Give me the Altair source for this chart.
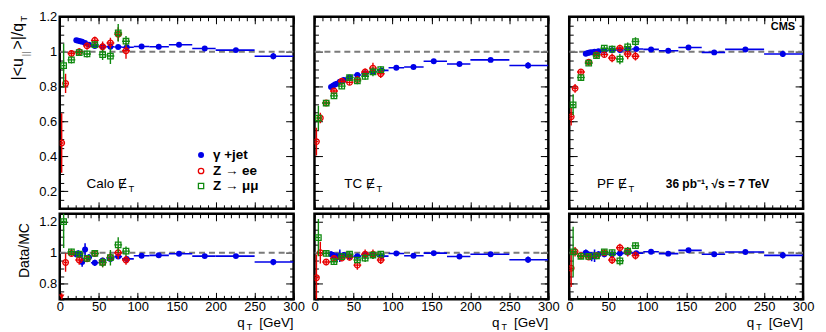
import altair as alt
import pandas as pd

FONT = "Liberation Sans"
BLUE = "#0000e8"
RED = "#e80000"
GREEN = "#108a10"

ALGOS = ["Calo", "TC", "PF"]
LEGEND_LABELS = ["\u03b3 +jet", "Z \u2192 ee", "Z \u2192 \u03bc\u03bc"]

# ---- gamma + jet (blue) ----
blue_q = [21.25, 23.75, 26.25, 28.75, 32.5, 37.5, 45, 55, 65, 75, 86, 105, 127, 153, 186, 226, 274]
blue_lo = [20, 22.5, 25, 27.5, 30, 35, 40, 50, 60, 70, 80, 95, 115, 140, 170, 200, 250]
blue_hi = [22.5, 25, 27.5, 30, 35, 40, 50, 60, 70, 80, 95, 115, 140, 170, 200, 250, 300]
blue_calo = [1.066, 1.063, 1.060, 1.057, 1.050, 1.040, 1.032, 1.030, 1.028, 1.027, 1.025, 1.030, 1.028, 1.040, 1.018, 1.009, 0.974]
blue_tc = [0.798, 0.805, 0.812, 0.817, 0.828, 0.838, 0.852, 0.866, 0.876, 0.885, 0.893, 0.908, 0.912, 0.945, 0.929, 0.953, 0.921]
blue_pf = [0.988, 0.992, 0.995, 0.997, 1.000, 1.003, 1.005, 1.009, 1.010, 1.012, 1.015, 1.013, 1.005, 1.024, 0.996, 1.013, 0.987]
blue_err = [0.004, 0.004, 0.004, 0.004, 0.004, 0.004, 0.004, 0.004, 0.005, 0.005, 0.005, 0.005, 0.006, 0.006, 0.007, 0.008, 0.018]
blue_calo_r = [0.990, 0.995, 0.985, 0.940, 1.020, 0.970, 0.935, 0.950, 0.960, 0.975, 0.960, 0.980, 0.983, 0.993, 0.978, 0.978, 0.940]
blue_tc_r = [0.990, 0.985, 0.975, 0.970, 0.980, 0.985, 0.975, 0.978, 0.985, 0.985, 0.978, 0.995, 0.980, 0.997, 0.976, 0.990, 0.955]
blue_pf_r = [1.000, 0.990, 0.985, 0.975, 0.980, 0.990, 0.990, 0.990, 0.995, 1.000, 0.997, 1.006, 0.994, 1.015, 0.990, 1.004, 0.983]
blue_err_r = [0.02, 0.02, 0.02, 0.03, 0.04, 0.02, 0.02, 0.015, 0.015, 0.015, 0.012, 0.01, 0.01, 0.01, 0.01, 0.012, 0.02]

# ---- Z -> ee (red) ----
ee_q = [2.5, 7.5, 15, 25, 35, 45, 55, 65, 75, 85]
ee_halfw = [2.5, 2.5, 5, 5, 5, 5, 5, 5, 5, 5]
ee_calo = [0.477, 0.818, 0.990, 1.000, 1.033, 1.065, 1.028, 1.050, 1.100, 1.005]
ee_calo_err = [0.17, 0.055, 0.02, 0.02, 0.02, 0.02, 0.03, 0.03, 0.04, 0.045]
ee_tc = [0.485, 0.620, 0.706, 0.775, 0.831, 0.824, 0.840, 0.884, 0.906, 0.874]
ee_tc_err = [0.08, 0.03, 0.015, 0.015, 0.015, 0.015, 0.02, 0.02, 0.03, 0.025]
ee_pf = [0.627, 0.790, 0.884, 0.940, 0.983, 0.983, 0.964, 1.020, 0.987, 0.974]
ee_pf_err = [0.05, 0.025, 0.015, 0.015, 0.015, 0.015, 0.025, 0.02, 0.03, 0.025]
ee_calo_r = [0.55, 0.937, 0.995, 0.953, 0.960, 0.995, 0.937, 0.970, 1.000, 0.953]
ee_calo_r_err = [0.19, 0.06, 0.02, 0.03, 0.02, 0.02, 0.03, 0.03, 0.04, 0.03]
ee_tc_r = [0.839, 1.000, 0.940, 0.963, 0.965, 0.970, 0.920, 0.990, 0.990, 0.953]
ee_tc_r_err = [0.15, 0.07, 0.02, 0.02, 0.02, 0.02, 0.03, 0.03, 0.03, 0.025]
ee_pf_r = [0.900, 1.006, 0.980, 0.972, 0.980, 1.000, 0.953, 1.032, 1.006, 0.982]
ee_pf_r_err = [0.12, 0.03, 0.015, 0.015, 0.015, 0.015, 0.025, 0.025, 0.03, 0.025]
ee_calo_r_arrow_q = [2.5]
ee_calo_r_arrow_v = [0.716]

# ---- Z -> mumu (green) ----
mm_q = [5, 15, 25, 35, 45, 55, 65, 75, 85]
mm_halfw = [2.5, 5, 5, 5, 5, 5, 5, 5, 5]
mm_calo = [0.920, 0.953, 0.995, 0.987, 1.040, 0.983, 0.975, 1.108, 1.060]
mm_calo_err = [0.125, 0.02, 0.02, 0.02, 0.02, 0.03, 0.045, 0.05, 0.03]
mm_tc = [0.620, 0.706, 0.747, 0.803, 0.852, 0.833, 0.859, 0.884, 0.897]
mm_tc_err = [0.07, 0.015, 0.015, 0.015, 0.015, 0.02, 0.02, 0.025, 0.02]
mm_pf = [0.696, 0.852, 0.934, 0.977, 1.020, 1.015, 0.958, 1.028, 1.058]
mm_pf_err = [0.06, 0.015, 0.015, 0.015, 0.015, 0.02, 0.03, 0.025, 0.025]
mm_calo_r = [1.200, 1.006, 0.990, 0.963, 0.995, 0.937, 0.968, 1.050, 1.010]
mm_calo_r_err = [0.17, 0.02, 0.02, 0.02, 0.02, 0.03, 0.05, 0.05, 0.03]
mm_tc_r = [1.097, 0.995, 0.942, 0.975, 0.990, 0.953, 0.965, 0.985, 0.990]
mm_tc_r_err = [0.12, 0.02, 0.02, 0.02, 0.02, 0.02, 0.025, 0.025, 0.02]
mm_pf_r = [1.006, 0.977, 0.976, 0.980, 1.006, 1.000, 0.948, 1.010, 1.045]
mm_pf_r_err = [0.16, 0.015, 0.015, 0.015, 0.015, 0.02, 0.03, 0.025, 0.02]

# ---- ticks ----
x_major = [0, 50, 100, 150, 200, 250, 300]
x_minor = [0, 10, 20, 30, 40, 50, 60, 70, 80, 90, 100, 110, 120, 130, 140, 150,
           160, 170, 180, 190, 200, 210, 220, 230, 240, 250, 260, 270, 280, 290, 300]
y_main_major = [0.2, 0.4, 0.6, 0.8, 1.0, 1.2]
y_main_minor = [0.1, 0.15, 0.2, 0.25, 0.3, 0.35, 0.4, 0.45, 0.5, 0.55, 0.6, 0.65,
                0.7, 0.75, 0.8, 0.85, 0.9, 0.95, 1.0, 1.05, 1.1, 1.15, 1.2]
y_ratio_major = [0.8, 1.0, 1.2]
y_ratio_minor = [0.7, 0.75, 0.8, 0.85, 0.9, 0.95, 1.0, 1.05, 1.1, 1.15, 1.2, 1.25]

W = 235
H_MAIN = 193
H_RATIO = 86

AW = {"C": 0.722, "a": 0.556, "l": 0.222, "o": 0.556, "T": 0.611, "P": 0.667, "F": 0.611, " ": 0.278}

one = pd.DataFrame({"k": [0]})


def txt(text, x, y, size=13, weight="normal", align="left", baseline="middle",
        angle=0, dx=0, dy=0, color="black"):
    return alt.Chart(one).mark_text(
        text=text, align=align, baseline=baseline, angle=angle, dx=dx, dy=dy,
        fontSize=size, fontWeight=weight, font=FONT, color=color
    ).encode(x=alt.value(x), y=alt.value(y))


def axis(orient, values, size, labels):
    return alt.Axis(orient=orient, values=values, tickSize=size, offset=-size,
                    labels=labels, domain=False, grid=False, title=None,
                    tickColor="black", tickWidth=1, labelFont=FONT, labelFontSize=13,
                    labelColor="black", format="~r", labelFlush=False,
                    labelOverlap=False, labelPadding=3 if orient == "left" else 1)


def panel(col, ratio):
    algo = ALGOS[col]
    if ratio:
        ymin, ymax, h = 0.7, 1.25, H_RATIO
        ymaj, ymin_t = y_ratio_major, y_ratio_minor
        bvals = [blue_calo_r, blue_tc_r, blue_pf_r][col]
        berr = blue_err_r
        evals = [ee_calo_r, ee_tc_r, ee_pf_r][col]
        eerr = [ee_calo_r_err, ee_tc_r_err, ee_pf_r_err][col]
        mvals = [mm_calo_r, mm_tc_r, mm_pf_r][col]
        merr = [mm_calo_r_err, mm_tc_r_err, mm_pf_r_err][col]
    else:
        ymin, ymax, h = 0.1, 1.2, H_MAIN
        ymaj, ymin_t = y_main_major, y_main_minor
        bvals = [blue_calo, blue_tc, blue_pf][col]
        berr = blue_err
        evals = [ee_calo, ee_tc, ee_pf][col]
        eerr = [ee_calo_err, ee_tc_err, ee_pf_err][col]
        mvals = [mm_calo, mm_tc, mm_pf][col]
        merr = [mm_calo_err, mm_tc_err, mm_pf_err][col]

    xs = alt.Scale(domain=[0, 300], nice=False, zero=False)
    ys = alt.Scale(domain=[ymin, ymax], nice=False, zero=False)

    anchor = pd.DataFrame({"q": [150.0], "v": [1.0]})

    def axis_layer(xa, ya):
        return alt.Chart(anchor).mark_point(opacity=0).encode(
            x=alt.X("q:Q", scale=xs, axis=xa), y=alt.Y("v:Q", scale=ys, axis=ya))

    layers = [
        axis_layer(axis("bottom", x_major, 7, ratio), axis("left", ymaj, 8, col == 0)),
        axis_layer(axis("bottom", x_minor, 4, False), axis("left", ymin_t, 4, False)),
        axis_layer(axis("top", x_major, 7, False), axis("right", ymaj, 8, False)),
        axis_layer(axis("top", x_minor, 4, False), axis("right", ymin_t, 4, False)),
    ]

    ref = pd.DataFrame({"x0": [0], "x1": [300], "y": [1.0]})
    layers.append(alt.Chart(ref).mark_rule(color="#7a7a7a", strokeDash=[6, 4], strokeWidth=2, clip=True).encode(
        x=alt.X("x0:Q", scale=xs, axis=None), x2="x1:Q", y=alt.Y("y:Q", scale=ys, axis=None)))

    bdf = pd.DataFrame({"q": blue_q, "lo": blue_lo, "hi": blue_hi, "v": bvals,
                        "vlo": [v - e for v, e in zip(bvals, berr)],
                        "vhi": [v + e for v, e in zip(bvals, berr)]})
    layers += [
        alt.Chart(bdf).mark_rule(color=BLUE, strokeWidth=1.6, clip=True).encode(
            x=alt.X("lo:Q", scale=xs, axis=None), x2="hi:Q", y=alt.Y("v:Q", scale=ys, axis=None)),
        alt.Chart(bdf).mark_rule(color=BLUE, strokeWidth=1.6, clip=True).encode(
            x=alt.X("q:Q", scale=xs, axis=None), y=alt.Y("vlo:Q", scale=ys, axis=None), y2="vhi:Q"),
        alt.Chart(bdf).mark_point(shape="circle", filled=True, size=36, color=BLUE, opacity=1, clip=True).encode(
            x=alt.X("q:Q", scale=xs, axis=None), y=alt.Y("v:Q", scale=ys, axis=None)),
    ]

    for qv, hw, vals, errs, color, shape, size in [
        (ee_q, ee_halfw, evals, eerr, RED, "circle", 32),
        (mm_q, mm_halfw, mvals, merr, GREEN, "square", 30),
    ]:
        df = pd.DataFrame({"q": qv, "lo": [a - b for a, b in zip(qv, hw)],
                           "hi": [a + b for a, b in zip(qv, hw)], "v": vals,
                           "vlo": [v - e for v, e in zip(vals, errs)],
                           "vhi": [v + e for v, e in zip(vals, errs)]})
        layers += [
            alt.Chart(df).mark_rule(color=color, strokeWidth=1.4, clip=True).encode(
                x=alt.X("lo:Q", scale=xs, axis=None), x2="hi:Q", y=alt.Y("v:Q", scale=ys, axis=None)),
            alt.Chart(df).mark_rule(color=color, strokeWidth=1.4, clip=True).encode(
                x=alt.X("q:Q", scale=xs, axis=None), y=alt.Y("vlo:Q", scale=ys, axis=None), y2="vhi:Q"),
            alt.Chart(df).mark_point(shape=shape, filled=False, size=size, color=color,
                                     strokeWidth=1.3, opacity=1, clip=True).encode(
                x=alt.X("q:Q", scale=xs, axis=None), y=alt.Y("v:Q", scale=ys, axis=None)),
        ]

    if ratio and col == 0:
        adf = pd.DataFrame({"q": ee_calo_r_arrow_q, "v": ee_calo_r_arrow_v})
        layers.append(alt.Chart(adf).mark_point(shape="triangle-down", filled=True, size=30,
                                                color=RED, opacity=1).encode(
            x=alt.X("q:Q", scale=xs, axis=None), y=alt.Y("v:Q", scale=ys, axis=None)))

    # ---- texts ----
    if not ratio:
        fs = 13.5
        ty = 168
        name_x = [27, 30, 28][col]
        ex = name_x + sum(AW[c] for c in algo + " ") * fs
        layers += [
            txt(algo, name_x, ty, size=fs),
            txt("\u0246", ex, ty, size=fs),
            txt("T", ex + 10.5, ty + 5, size=9.5),
        ]
        if col == 0:
            lx, tx = 142, 154
            rows = [139, 155, 170]
            layers += [
                alt.Chart(one).mark_point(shape="circle", filled=True, size=36, color=BLUE, opacity=1).encode(
                    x=alt.value(lx), y=alt.value(rows[0])),
                alt.Chart(one).mark_point(shape="circle", filled=False, size=30, strokeWidth=1.3, color=RED, opacity=1).encode(
                    x=alt.value(lx), y=alt.value(rows[1])),
                alt.Chart(one).mark_point(shape="square", filled=False, size=28, strokeWidth=1.3, color=GREEN, opacity=1).encode(
                    x=alt.value(lx), y=alt.value(rows[2])),
            ]
            for lab, ry in zip(LEGEND_LABELS, rows):
                layers.append(txt(lab, tx, ry, size=13.5, weight="bold"))
            # y title |<u_||>|/q_T
            yb = 64
            layers += [
                txt("|<u", -37, yb, size=16, angle=270, baseline="alphabetic"),
                txt("||", -37, yb, size=10, angle=270, baseline="alphabetic", dx=24, dy=6, color="#777777"),
                txt(">|/q", -37, yb, size=16, angle=270, baseline="alphabetic", dx=31),
                txt("T", -37, yb, size=10, angle=270, baseline="alphabetic", dx=59, dy=4),
            ]
        if col == 2:
            layers += [
                txt("CMS", 227, 10, size=11, weight="bold", align="right"),
                txt("36 pb\u207b\u00b9, \u221as = 7 TeV", 97, ty, size=12, weight="bold"),
            ]
    else:
        layers += [
            txt("q", 186, 109.5, size=13.5, align="right"),
            txt("T", 188, 114, size=9),
            txt("[GeV]", 235, 109.5, size=13.5, align="right"),
        ]
        if col == 0:
            layers.append(txt("Data/MC", -31, 37, size=14, angle=270, align="center", baseline="alphabetic"))

    return alt.layer(*layers).properties(width=W, height=h).resolve_axis(x="independent", y="independent")


panels = [panel(c, False) for c in range(3)] + [panel(c, True) for c in range(3)]

chart = alt.concat(*panels, columns=3, spacing={"row": 5, "column": 21},
                   bounds="flush", align="each").properties(
    padding={"left": 0, "top": 0, "right": 2, "bottom": 0}
).configure(font=FONT, view=alt.ViewConfig(stroke="black", strokeWidth=2.5))

chart.save("out.html", embed_options={"renderer": "svg", "actions": False})
